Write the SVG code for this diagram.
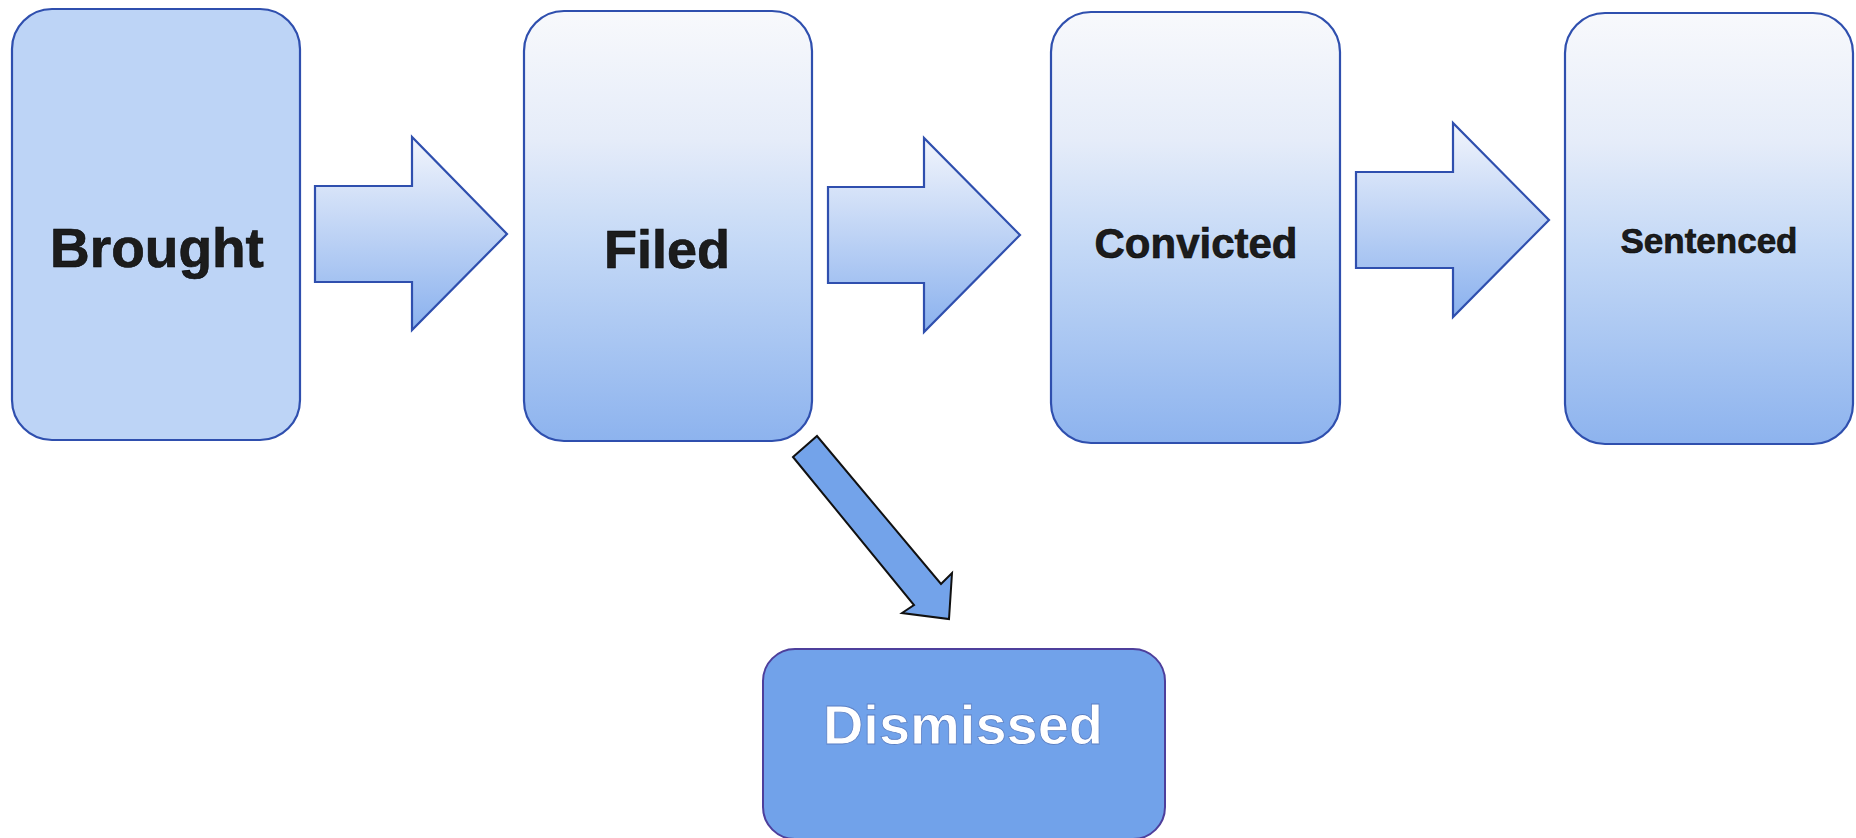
<svg xmlns="http://www.w3.org/2000/svg" width="1856" height="838" viewBox="0 0 1856 838">
<defs>
<linearGradient id="gBox" x1="0" y1="0" x2="0" y2="1">
<stop offset="0" stop-color="#f8f9fc"/>
<stop offset="0.3" stop-color="#e5ecf9"/>
<stop offset="0.55" stop-color="#c3d8f6"/>
<stop offset="1" stop-color="#8db3ee"/>
</linearGradient>
<linearGradient id="gArrow" x1="0" y1="0" x2="0" y2="1">
<stop offset="0" stop-color="#f2f5fc"/>
<stop offset="1" stop-color="#8ab1ee"/>
</linearGradient>
<style>
.box{stroke:#2f4fae;stroke-width:2.2}
.grad{fill:url(#gBox)}
.flat{fill:#bdd4f6}
.arrow{fill:url(#gArrow);stroke:#2f4fae;stroke-width:2.2;stroke-linejoin:miter}
.lbl{font-family:"Liberation Sans",Arial,sans-serif;font-weight:bold;fill:#1c1c1c;text-anchor:middle;stroke:#000;stroke-width:0.6}
.dis{fill:#71a2ea;stroke:#4d3f9c;stroke-width:2}
.dlbl{font-family:"Liberation Sans",Arial,sans-serif;font-weight:bold;fill:#ffffff;text-anchor:middle;stroke:#5a7fc4;stroke-width:0.8}
</style>
</defs>
<rect width="1856" height="838" fill="#ffffff"/>
<g id="connectors">
<polygon class="arrow" points="315,186 412,186 412,137 507,234 412,330 412,282 315,282"/>
<polygon class="arrow" points="828,187 924,187 924,138 1020,235 924,332 924,283 828,283"/>
<polygon class="arrow" points="1356,172 1453,172 1453,123 1549,220 1453,317 1453,268 1356,268"/>
<polygon points="793,457 817,436 941,584 952,573 949,619 902,613 914,605" fill="#73a3ea" stroke="#111" stroke-width="2" stroke-linejoin="miter"/>
</g>
<g id="node-brought">
<rect class="box flat" x="12" y="9" width="288" height="431" rx="40" ry="40"/>
<text class="lbl" x="157" y="267" font-size="55">Brought</text>
</g>
<g id="node-filed">
<rect class="box grad" x="524" y="11" width="288" height="430" rx="40" ry="40"/>
<text class="lbl" x="667" y="268" font-size="54">Filed</text>
</g>
<g id="node-convicted">
<rect class="box grad" x="1051" y="12" width="289" height="431" rx="40" ry="40"/>
<text class="lbl" x="1196" y="258" font-size="42">Convicted</text>
</g>
<g id="node-sentenced">
<rect class="box grad" x="1565" y="13" width="288" height="431" rx="40" ry="40"/>
<text class="lbl" x="1709" y="253" font-size="35">Sentenced</text>
</g>
<g id="node-dismissed">
<rect class="dis" x="763" y="649" width="402" height="190" rx="32" ry="32"/>
<text class="dlbl" x="963" y="744" font-size="56">Dismissed</text>
</g>
</svg>
